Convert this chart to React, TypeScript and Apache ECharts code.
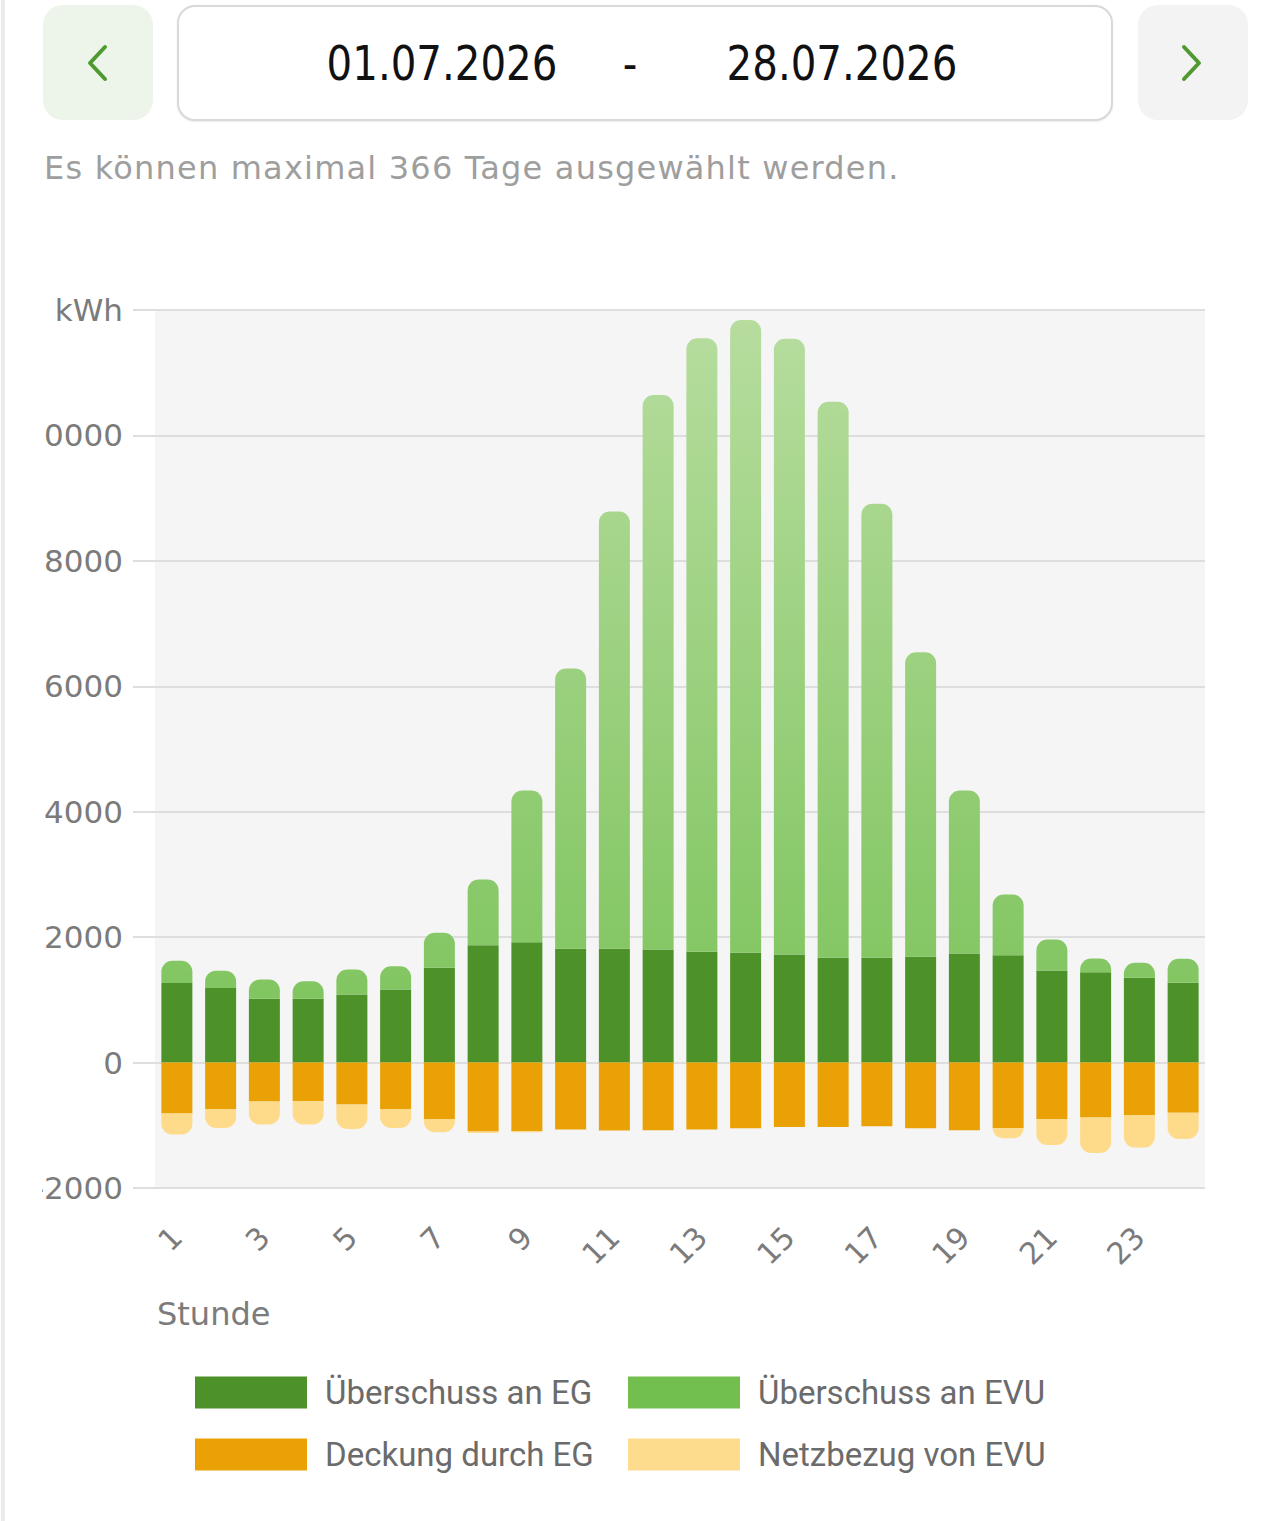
import React, { useEffect, useRef } from "react";
import * as echarts from "echarts";

const hours = ["1","2","3","4","5","6","7","8","9","10","11","12","13","14","15","16","17","18","19","20","21","22","23","24"];
const surplusEG = [1270,1190,1016,1016,1085,1164,1510,1871,1919,1813,1813,1802,1766,1750,1723,1670,1670,1686,1739,1711,1467,1440,1351,1271];
const surplusEVU = [355,276,308,281,398,372,559,1048,2419,4471,6975,8841,9782,10090,9820,8868,7241,4858,2600,969,495,219,239,383];
const coverageEG = [-813,-739,-622,-617,-670,-739,-900,-1100,-1095,-1069,-1085,-1080,-1069,-1048,-1026,-1026,-1016,-1048,-1080,-1048,-898,-877,-834,-802];
const gridEVU = [-335,-303,-367,-372,-388,-303,-212,-22,-17,0,0,0,0,0,0,0,0,0,0,-159,-415,-563,-522,-415];
const seriesNames = ["Überschuss an EG","Überschuss an EVU","Deckung durch EG","Netzbezug von EVU"];
const yMin = -2000;
const yMax = 12000;
const yStep = 2000;
const unitLabel = "kWh";
const xAxisName = "Stunde";
const dateFrom = "01.07.2026";
const dateTo = "28.07.2026";
const note = "Es können maximal 366 Tage ausgewählt werden.";

const FONT = "'DejaVu Sans', sans-serif";
const LEGEND_FONT = "Roboto, sans-serif";
const C_EG = "#4c9229";
const C_EVU = "#72bf4f";
const C_DECK = "#e9a105";
const C_NETZ = "#fedb8a";

function Chart() {
  const ref = useRef<HTMLDivElement>(null);
  useEffect(() => {
    if (!ref.current) return;
    const chart = echarts.init(ref.current, undefined, { renderer: "svg" });
    const gridTop = 70;
    const gridHeight = 878;
    const zeroY = gridTop + (yMax / (yMax - yMin)) * gridHeight;
    const legendCommon = {
      orient: "horizontal",
      icon: "rect",
      itemWidth: 112,
      itemHeight: 32,
      padding: 0,
      selectedMode: false,
      textStyle: { fontFamily: LEGEND_FONT, fontSize: 33, color: "#6b6b6b", padding: [0, 0, 0, 13] },
      itemStyle: { borderWidth: 0 },
    };
    chart.setOption({
      animation: false,
      grid: {
        left: 113,
        right: 43,
        top: gridTop,
        height: gridHeight,
        show: true,
        backgroundColor: "#f5f5f5",
        borderWidth: 0,
        containLabel: false,
        outerBoundsMode: "none",
      },
      legend: [
        { ...legendCommon, left: 153, top: 1136, data: [{ name: seriesNames[0], itemStyle: { color: C_EG } }] },
        { ...legendCommon, left: 586, top: 1136, data: [{ name: seriesNames[1], itemStyle: { color: C_EVU } }] },
        { ...legendCommon, left: 153, top: 1198, data: [{ name: seriesNames[2], itemStyle: { color: C_DECK } }] },
        { ...legendCommon, left: 586, top: 1198, data: [{ name: seriesNames[3], itemStyle: { color: "#fddc8e" } }] },
      ],
      xAxis: {
        type: "category",
        data: hours,
        axisLine: { show: false, onZero: false },
        axisTick: { show: false },
        axisLabel: {
          interval: 1,
          rotate: 45,
          margin: 44,
          fontFamily: FONT,
          fontSize: 30,
          color: "#7b7b7b",
        },
      },
      yAxis: {
        type: "value",
        min: yMin,
        max: yMax,
        interval: yStep,
        axisLine: { show: false },
        axisTick: { show: true, length: 22, lineStyle: { color: "#dedede", width: 2 } },
        splitLine: { show: true, lineStyle: { color: "#dedede", width: 2 } },
        axisLabel: {
          margin: 32,
          fontFamily: FONT,
          fontSize: 31,
          color: "#7b7b7b",
          formatter: (v: number) => (v === yMax ? unitLabel : String(v)),
        },
      },
      graphic: [
        {
          type: "text",
          left: 115,
          top: 1058,
          style: { text: xAxisName, fontFamily: FONT, fontSize: 32, fill: "#7b7b7b" },
        },
      ],
      series: [
        {
          name: seriesNames[0],
          type: "bar",
          stack: "all",
          barWidth: 31,
          data: surplusEG,
          itemStyle: { color: C_EG },
        },
        {
          name: seriesNames[1],
          type: "bar",
          stack: "all",
          barWidth: 31,
          data: surplusEVU,
          itemStyle: {
            borderRadius: [11, 11, 0, 0],
            color: {
              type: "linear",
              x: 0,
              y: gridTop,
              x2: 0,
              y2: zeroY,
              global: true,
              colorStops: [
                { offset: 0, color: "#b7dd9f" },
                { offset: 1, color: "#7cc35b" },
              ],
            },
          },
        },
        {
          name: seriesNames[2],
          type: "bar",
          stack: "all",
          barWidth: 31,
          data: coverageEG,
          itemStyle: { color: C_DECK },
        },
        {
          name: seriesNames[3],
          type: "bar",
          stack: "all",
          barWidth: 31,
          data: gridEVU,
          itemStyle: { color: C_NETZ, borderRadius: [0, 0, 11, 11] },
        },
      ],
    });
    return () => chart.dispose();
  }, []);
  return (
    <div
      ref={ref}
      style={{ position: "absolute", left: 42, top: 240, width: 1206, height: 1281, overflow: "hidden" }}
    />
  );
}

export default function App() {
  const dateStyle: React.CSSProperties = {
    position: "absolute",
    top: 63,
    transform: "translate(-50%, -50%) scaleX(0.84)",
    fontFamily: FONT,
    fontSize: 48,
    color: "#111",
    whiteSpace: "nowrap",
    lineHeight: 1,
  };
  return (
    <div
      style={{
        position: "absolute",
        left: 0,
        top: 0,
        width: 1280,
        height: 1521,
        background: "#fff",
        overflow: "hidden",
      }}
    >
      <div style={{ position: "absolute", left: 1, top: 0, width: 4, height: 1521, background: "#ebebeb" }} />
      <div
        style={{
          position: "absolute",
          left: 43,
          top: 5,
          width: 110,
          height: 115,
          background: "#edf5ea",
          borderRadius: 20,
        }}
      />
      <svg style={{ position: "absolute", left: 0, top: 0 }} width={1280} height={130}>
        <polyline points="105,47 90,63 105,79" fill="none" stroke="#4f9a30" strokeWidth={4} strokeLinecap="round" strokeLinejoin="round" />
      </svg>
      <div
        style={{
          position: "absolute",
          left: 177,
          top: 5,
          width: 932,
          height: 112,
          background: "#fff",
          border: "2px solid #d9d9d9",
          borderRadius: 18,
          boxShadow: "0 1px 2px rgba(0,0,0,0.08)",
        }}
      />
      <div style={{ ...dateStyle, left: 442 }}>{dateFrom}</div>
      <div style={{ ...dateStyle, left: 630 }}>-</div>
      <div style={{ ...dateStyle, left: 842 }}>{dateTo}</div>
      <div
        style={{
          position: "absolute",
          left: 1138,
          top: 5,
          width: 110,
          height: 115,
          background: "#f3f3f3",
          borderRadius: 20,
        }}
      />
      <svg style={{ position: "absolute", left: 0, top: 0 }} width={1280} height={130}>
        <polyline points="1184,47 1199,63 1184,79" fill="none" stroke="#4f9a30" strokeWidth={4} strokeLinecap="round" strokeLinejoin="round" />
      </svg>
      <div
        style={{
          position: "absolute",
          left: 44,
          top: 168,
          transform: "translateY(-50%)",
          fontFamily: FONT,
          fontSize: 32,
          letterSpacing: 1.2,
          color: "#9e9e9e",
          whiteSpace: "nowrap",
          lineHeight: 1,
        }}
      >
        {note}
      </div>
      <Chart />
    </div>
  );
}
